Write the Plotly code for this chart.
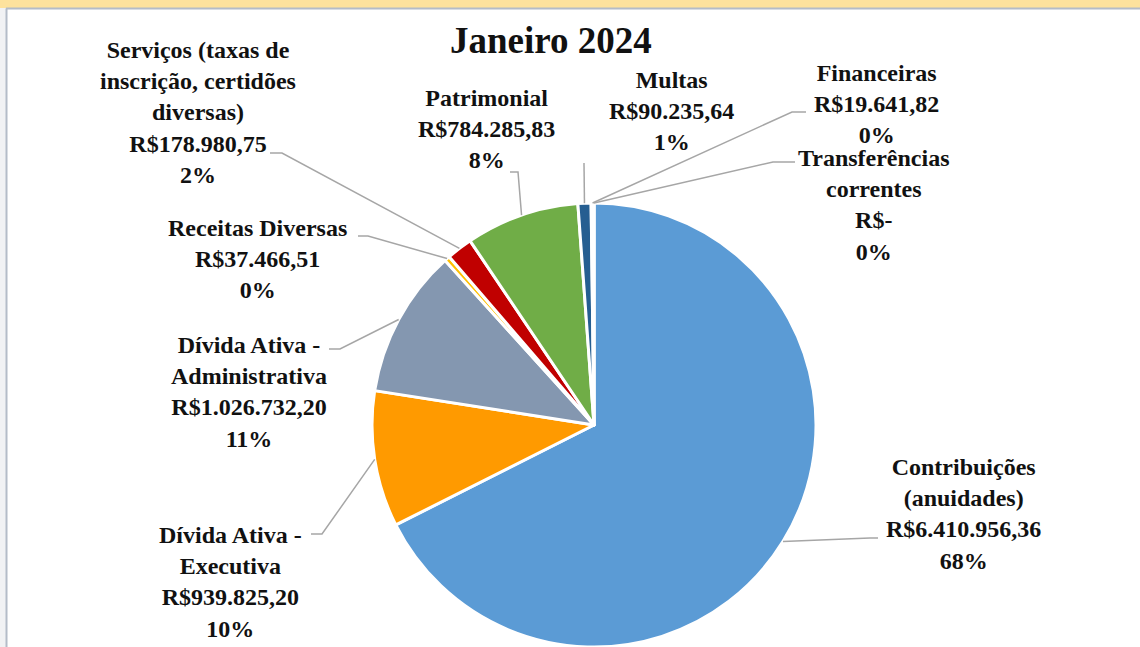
import math
import plotly.graph_objects as go

# ---------------- data ----------------
categories = [
    "Contribuições (anuidades)",
    "Dívida Ativa - Executiva",
    "Dívida Ativa - Administrativa",
    "Receitas Diversas",
    "Serviços (taxas de inscrição, certidões diversas)",
    "Patrimonial",
    "Multas",
    "Financeiras",
    "Transferências correntes",
]
label_names = [
    "Contribuições<br>(anuidades)",
    "Dívida Ativa -<br>Executiva",
    "Dívida Ativa -<br>Administrativa",
    "Receitas Diversas",
    "Serviços (taxas de<br>inscrição, certidões<br>diversas)",
    "Patrimonial",
    "Multas",
    "Financeiras",
    "Transferências<br>correntes",
]
values = [6410956.36, 939825.20, 1026732.20, 37466.51, 178980.75,
          784285.83, 90235.64, 19641.82, 0.0]
title_text = "Janeiro 2024"

# ---------------- style ----------------
colors = ["#5B9BD5", "#FF9A00", "#8497B0", "#FFC000", "#C00000",
          "#70AD47", "#255E91", "#F4F4F4", "#A5A5A5"]
W, H = 1140, 647
CX, CY, R = 594, 425, 222          # pie centre / radius in pixels
FONT = "Liberation Serif"
LBL_SIZE = 24
LINE_COLOR = "#A6A6A6"

# label centre positions (px) and leader-line elbow points (px)
label_pos = [(963, 514), (230, 582), (249, 392), (257, 259), (198, 113),
             (486, 129), (672, 111), (877, 104), (874, 205)]
elbows = [
    [(870, 538), (878, 538)],
    [(322, 534), (311, 534)],
    [(340, 349), (329, 349)],
    [(368, 236), (358, 236)],
    [(282, 153), (270, 153)],
    [(518, 172), (510, 172)],
    [(584, 163)],
    [(792, 112), (806, 112)],
    [(773, 162), (795, 162)],
]


def px(x):
    return x / W


def py(y):
    return 1 - y / H


def brl(v):
    if v == 0:
        return "R$-"
    s = f"{v:,.2f}".replace(",", "X").replace(".", ",").replace("X", ".")
    return "R$" + s


total = sum(values)

fig = go.Figure()
fig.add_trace(go.Pie(
    labels=categories,
    values=values,
    sort=False,
    direction="clockwise",
    rotation=0,
    textinfo="none",
    hoverinfo="label+value+percent",
    marker=dict(colors=colors, line=dict(color="white", width=3)),
    domain=dict(x=[px(CX - R), px(CX + R)], y=[py(CY + R), py(CY - R)]),
    showlegend=False,
))

shapes = []
# frame decoration
shapes.append(dict(type="rect", xref="paper", yref="paper", x0=0, x1=1,
                   y0=py(8), y1=1, fillcolor="#FDE29D", line_width=0, layer="below"))
shapes.append(dict(type="rect", xref="paper", yref="paper", x0=0, x1=px(6),
                   y0=0, y1=py(8), fillcolor="#F1F2F4", line_width=0, layer="below"))
shapes.append(dict(type="line", xref="paper", yref="paper", x0=px(6), x1=1,
                   y0=py(8.5), y1=py(8.5), line=dict(color="#B4BCC8", width=2)))
shapes.append(dict(type="line", xref="paper", yref="paper", x0=px(6.5), x1=px(6.5),
                   y0=0, y1=py(8.5), line=dict(color="#B4BCC8", width=2)))

annotations = []
cum = 0.0
for i, v in enumerate(values):
    mid = (cum + v / 2) / total * 2 * math.pi
    cum += v
    ex = CX + R * math.sin(mid)
    ey = CY - R * math.cos(mid)
    pts = [(ex, ey)] + elbows[i]
    path = "M " + " L ".join(f"{px(x):.5f},{py(y):.5f}" for x, y in pts)
    shapes.append(dict(type="path", xref="paper", yref="paper", path=path,
                       line=dict(color=LINE_COLOR, width=1.5)))
    pct = round(v / total * 100)
    text = f"{label_names[i]}<br>{brl(v)}<br>{pct}%"
    lx, ly = label_pos[i]
    annotations.append(dict(
        x=px(lx), y=py(ly), xref="paper", yref="paper",
        xanchor="center", yanchor="middle", showarrow=False,
        text=text, align="center",
        font=dict(family=FONT, size=LBL_SIZE, color="#111111", weight="bold"),
    ))

annotations.append(dict(
    x=px(551), y=py(40), xref="paper", yref="paper",
    xanchor="center", yanchor="middle", showarrow=False,
    text=title_text,
    font=dict(family=FONT, size=37, color="#111111", weight="bold"),
))

fig.update_layout(
    width=W, height=H,
    margin=dict(l=0, r=0, t=0, b=0),
    paper_bgcolor="white",
    plot_bgcolor="white",
    shapes=shapes,
    annotations=annotations,
)

fig.write_html(
    "out.html",
    config={"displayModeBar": False},
    post_script="document.body.style.margin='0';document.body.style.overflow='hidden';",
)
